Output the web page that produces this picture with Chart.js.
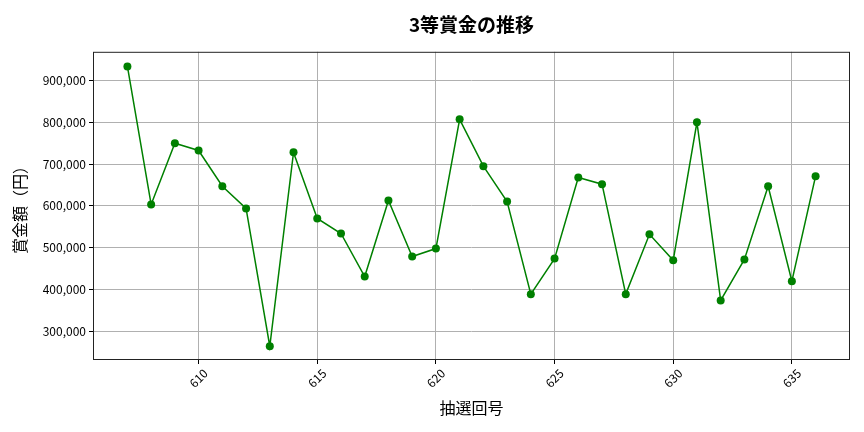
<!DOCTYPE html>
<html>
<head>
<meta charset="utf-8">
<script src="https://cdn.jsdelivr.net/npm/chart.js@4"></script>
<style>
  html, body { margin: 0; padding: 0; background: #fff; }
  #wrap { width: 864px; height: 432px; }
</style>
</head>
<body>
<div id="wrap"><canvas id="prizeChart"></canvas></div>
<script>
const FONT = "'Noto Sans CJK JP', 'Noto Sans', sans-serif";

// draw numbers and 3rd prize amounts (yen)
const draws = [607, 608, 609, 610, 611, 612, 613, 614, 615, 616,
  617, 618, 619, 620, 621, 622, 623, 624, 625, 626,
  627, 628, 629, 630, 631, 632, 633, 634, 635, 636];
const prizes = [933500, 603400, 750000, 732500, 647000, 594000, 264400, 728000, 570000, 534000,
  431000, 613000, 479000, 498000, 807000, 695000, 610500, 389000, 474000, 668000,
  652000, 389000, 532000, 470000, 800000, 374000, 472000, 647000, 420000, 671000];

const xTicks = [610, 615, 620, 625, 630, 635];
const yTicks = [300000, 400000, 500000, 600000, 700000, 800000, 900000];

// axes box like matplotlib spines
const frame = {
  id: 'frame',
  afterDatasetsDraw(chart) {
    const a = chart.chartArea;
    const ctx = chart.ctx;
    ctx.save();
    ctx.strokeStyle = '#222';
    ctx.lineWidth = 1;
    ctx.strokeRect(a.left + 0.5, a.top + 0.5, a.right - a.left - 1, a.bottom - a.top - 1);
    ctx.restore();
  }
};

new Chart(document.getElementById('prizeChart'), {
  type: 'line',
  data: {
    datasets: [{
      label: '3等賞金',
      data: draws.map((d, i) => ({ x: d, y: prizes[i] })),
      borderColor: '#008000',
      backgroundColor: '#008000',
      borderWidth: 1.5,
      pointRadius: 4,
      pointBorderWidth: 0,
      tension: 0,
    }],
  },
  options: {
    responsive: true,
    maintainAspectRatio: false,
    animation: false,
    layout: { padding: { left: 0, right: 14, top: 0, bottom: 0 } },
    plugins: {
      legend: { display: false },
      tooltip: { enabled: false },
      title: {
        display: true,
        text: '3等賞金の推移',
        fullSize: false,
        color: '#000',
        font: { family: FONT, size: 19, weight: 'bold' },
        padding: { top: 13, bottom: 16 },
      },
    },
    scales: {
      x: {
        type: 'linear',
        min: 605.55,
        max: 637.45,
        afterBuildTicks: (s) => { s.ticks = xTicks.map(v => ({ value: v })); },
        afterFit: (s) => { s.height = 72; },
        grid: { color: '#b0b0b0', tickColor: '#000', tickLength: 4, lineWidth: 1 },
        border: { display: false },
        ticks: {
          color: '#000',
          font: { family: FONT, size: 12 },
          minRotation: 45,
          maxRotation: 45,
          labelOffset: 7,
          padding: 2,
          callback: (v) => String(v),
        },
        title: {
          display: true,
          text: '抽選回号',
          color: '#000',
          font: { family: FONT, size: 16 },
          padding: { top: 0, bottom: 14 },
        },
      },
      y: {
        min: 231500,
        max: 968500,
        afterBuildTicks: (s) => { s.ticks = yTicks.map(v => ({ value: v })); },
        afterFit: (s) => { s.width = 93; },
        grid: { color: '#b0b0b0', tickColor: '#000', tickLength: 4, lineWidth: 1 },
        border: { display: false },
        ticks: {
          color: '#000',
          font: { family: FONT, size: 12 },
          padding: 3,
          callback: (v) => v.toLocaleString('en-US'),
        },
        title: {
          display: true,
          text: '賞金額（円）',
          color: '#000',
          font: { family: FONT, size: 16 },
          padding: { top: 10, bottom: 0 },
        },
      },
    },
  },
  plugins: [frame],
});
</script>
</body>
</html>
